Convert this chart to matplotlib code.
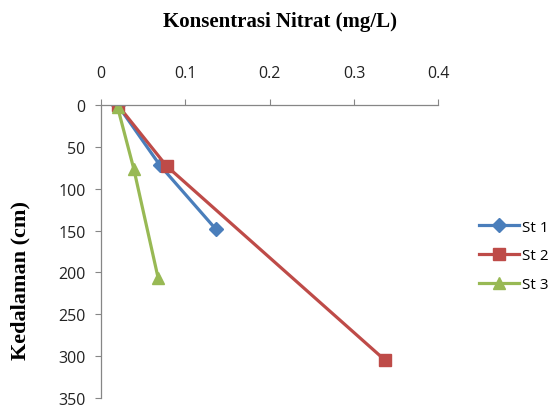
import numpy as np
import matplotlib.pyplot as plt

# Data: nitrate concentration (mg/L) vs depth (cm)
st1_x = [0.02, 0.07, 0.136]
st1_y = [0, 72, 148]
st2_x = [0.02, 0.078, 0.337]
st2_y = [0, 73, 305]
st3_x = [0.02, 0.039, 0.068]
st3_y = [3, 76, 207]

xticks = [0, 0.1, 0.2, 0.3, 0.4]
yticks = [0, 50, 100, 150, 200, 250, 300, 350]

fig = plt.figure(figsize=(5.6, 4.06), dpi=100)
ax = fig.add_axes([0.18, 0.017, 0.603, 0.722])

ax.plot(st1_x, st1_y, color='#4A7EBB', lw=2.3, marker='D', ms=7, label='St 1')
ax.plot(st2_x, st2_y, color='#BE4B48', lw=2.3, marker='s', ms=9, label='St 2')
ax.plot(st3_x, st3_y, color='#98B954', lw=2.3, marker='^', ms=8, label='St 3')

ax.set_xlim(0, 0.4)
ax.set_ylim(350, 0)
ax.set_xticks(xticks)
ax.set_xticklabels(['0', '0.1', '0.2', '0.3', '0.4'])
ax.set_yticks(yticks)
ax.xaxis.tick_top()

for s in ['right', 'bottom']:
    ax.spines[s].set_visible(False)
for s in ['left', 'top']:
    ax.spines[s].set_color('#868686')
    ax.spines[s].set_linewidth(0.9)

ax.tick_params(axis='x', length=4, color='#868686', pad=13, labelsize=11.5)
ax.tick_params(axis='y', length=4, color='#868686', pad=7, labelsize=11.5)
for lab in ax.get_xticklabels() + ax.get_yticklabels():
    lab.set_family('Open Sans')
    lab.set_color('#222222')

fig.text(0.5, 0.945, 'Konsentrasi Nitrat (mg/L)', ha='center', va='center',
         family='Liberation Serif', fontweight='bold', fontsize=15)
fig.text(0.037, 0.31, 'Kedalaman (cm)', ha='center', va='center', rotation=90,
         family='Liberation Serif', fontweight='bold', fontsize=16)

leg = ax.legend(loc='center left', bbox_to_anchor=(1.12, 0.485), frameon=False,
                borderaxespad=0, borderpad=0,
                handlelength=2.6, labelspacing=0.9, handletextpad=0.2,
                prop={'family': 'Open Sans', 'size': 11})

fig.savefig('out.png', dpi=100)
